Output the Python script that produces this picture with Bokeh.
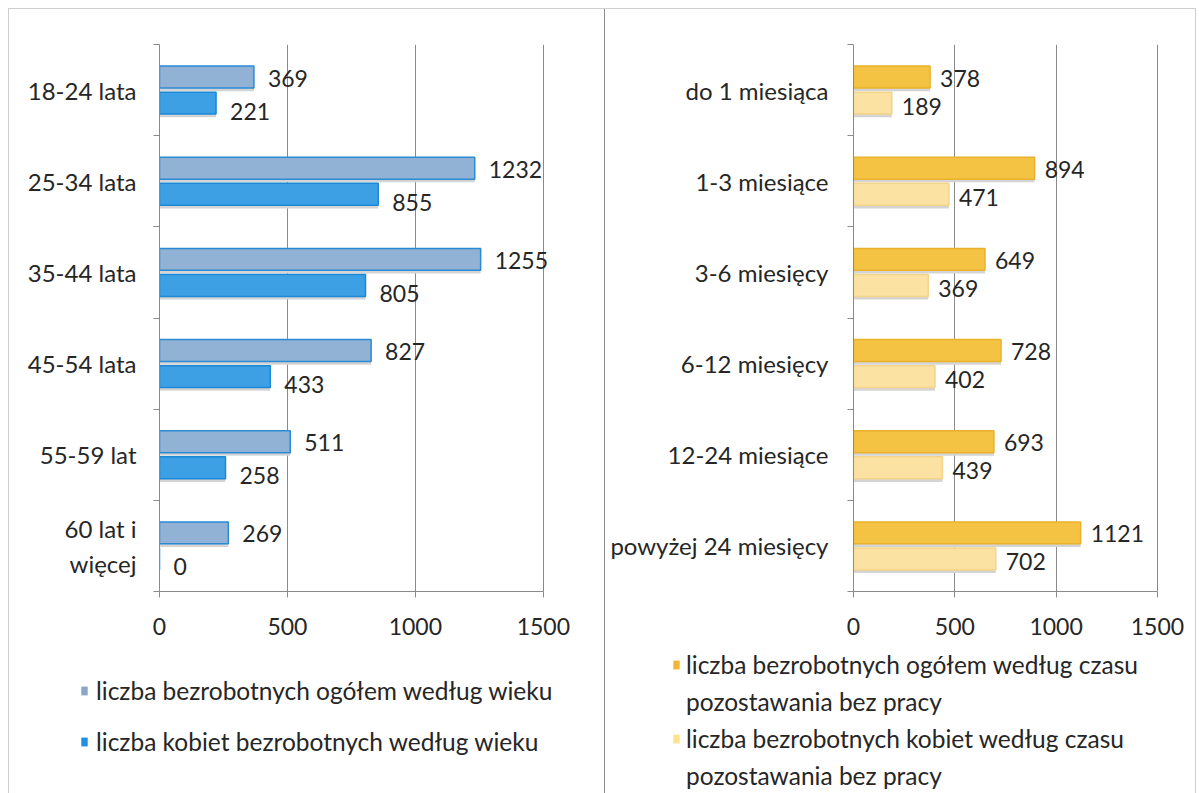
from bokeh.plotting import figure
from bokeh.models import Range1d, FixedTicker, Legend, LegendItem, ColumnDataSource
from bokeh.layouts import row, column
from bokeh.core.properties import value
from bokeh.embed import file_html
from bokeh.resources import INLINE

# ---- data ----
age_cats = ["18-24 lata", "25-34 lata", "35-44 lata", "45-54 lata", "55-59 lat", "60 lat i\nwięcej"]
age_total = [369, 1232, 1255, 827, 511, 269]
age_women = [221, 855, 805, 433, 258, 0]

dur_cats = ["do 1 miesiąca", "1-3 miesiące", "3-6 miesięcy", "6-12 miesięcy",
            "12-24 miesiące", "powyżej 24 miesięcy"]
dur_total = [378, 894, 649, 728, 693, 1121]
dur_women = [189, 471, 369, 402, 439, 702]

x_ticks = [0, 500, 1000, 1500]

age_legend = ["liczba bezrobotnych ogółem według wieku",
              "liczba kobiet bezrobotnych według wieku"]
dur_legend = [["liczba bezrobotnych ogółem według czasu", "pozostawania bez pracy"],
              ["liczba bezrobotnych kobiet według czasu", "pozostawania bez pracy"]]

FONT = "Lato"
FS_NUM = "23px"
FS_CAT = "24px"
FS_LEG = "24.5px"
TXT = "#262626"
PLOT_H = 636
LEG_H = 148
AX_MAX = 1500


def panel(cats, total, women, width, left, frame_w, x_end,
          c_total, l_total, c_women, l_women, lab_dx, lab_dy1, lab_dy2, standoff):
    n = len(cats)
    centers = [n - 0.5 - i for i in range(n)]
    src = ColumnDataSource(dict(
        cat=cats, total=total, women=women,
        y1=[c + 0.143 for c in centers], y2=[c - 0.143 for c in centers],
        s1=[c + 0.143 - 0.035 for c in centers], s2=[c - 0.143 - 0.035 for c in centers],
        t1=[str(v) for v in total], t2=[str(v) for v in women],
    ))
    p = figure(width=width, height=PLOT_H, output_backend="svg", toolbar_location=None,
               x_range=Range1d(0, x_end), y_range=Range1d(0, n),
               min_border_left=left, min_border_right=width - left - frame_w,
               min_border_top=35, min_border_bottom=PLOT_H - 35 - 547)
    p.frame_align = False
    p.outline_line_color = None
    p.background_fill_color = "white"
    p.border_fill_color = "white"
    p.ygrid.grid_line_color = None
    p.xgrid.grid_line_color = "#8a8a8a"
    p.xgrid.ticker = FixedTicker(ticks=x_ticks)

    # shadows
    p.hbar(y="s1", left=0, right="total", height=0.24, source=src,
           fill_color="#d4d4d4", line_color=None)
    p.hbar(y="s2", left=0, right="women", height=0.24, source=src,
           fill_color="#d4d4d4", line_color=None)
    # bars
    p.hbar(y="y1", left=0, right="total", height=0.24, source=src,
           fill_color=c_total, line_color=l_total, line_width=1.5)
    p.hbar(y="y2", left=0, right="women", height=0.24, source=src,
           fill_color=c_women, line_color=l_women, line_width=1.5)
    # value labels
    p.text(x="total", y="y1", text="t1", source=src, x_offset=lab_dx, y_offset=lab_dy1,
           text_baseline="middle", text_align="left", text_font=value(FONT),
           text_font_size=FS_NUM, text_color=TXT)
    p.text(x="women", y="y2", text="t2", source=src, x_offset=lab_dx, y_offset=lab_dy2,
           text_baseline="middle", text_align="left", text_font=value(FONT),
           text_font_size=FS_NUM, text_color=TXT)

    xa = p.xaxis[0]
    xa.ticker = FixedTicker(ticks=x_ticks)
    xa.bounds = (0, AX_MAX)
    xa.axis_line_color = "#8a8a8a"
    xa.major_tick_line_color = "#8a8a8a"
    xa.major_tick_in = 0
    xa.major_tick_out = 6
    xa.minor_tick_line_color = None
    xa.major_label_standoff = 20
    xa.major_label_text_font = FONT
    xa.major_label_text_font_size = FS_NUM
    xa.major_label_text_color = TXT

    ya = p.yaxis[0]
    ya.ticker = FixedTicker(ticks=centers, minor_ticks=list(range(n + 1)))
    ya.major_label_overrides = {c: lab for c, lab in zip(centers, cats)}
    ya.axis_line_color = "#8a8a8a"
    ya.major_tick_line_color = None
    ya.major_tick_in = 0
    ya.major_tick_out = 0
    ya.minor_tick_line_color = "#8a8a8a"
    ya.minor_tick_in = 0
    ya.minor_tick_out = 6
    ya.major_label_standoff = standoff
    ya.major_label_text_font = FONT
    ya.major_label_text_font_size = FS_CAT
    ya.major_label_text_color = TXT
    return p


def legend_fig(width, entries, loc, spacing, standoff):
    f = figure(width=width, height=LEG_H, output_backend="svg", toolbar_location=None,
               x_range=Range1d(0, 1), y_range=Range1d(0, 1),
               x_axis_type=None, y_axis_type=None,
               min_border_left=0, min_border_right=0, min_border_top=0, min_border_bottom=0)
    f.frame_align = False
    f.outline_line_color = None
    f.grid.grid_line_color = None
    f.background_fill_color = "white"
    f.border_fill_color = "white"
    items = []
    for label, color in entries:
        # a single swatch bar placed outside the visible range, only for the legend key
        if color is None:
            r = f.hbar(y=[-5], left=[0], right=[1], height=0.1, fill_alpha=0, line_alpha=0)
        else:
            r = f.hbar(y=[-5], left=[0], right=[1], height=0.1, fill_color=color, line_color=None)
        items.append(LegendItem(label=label, renderers=[r]))
    leg = Legend(items=items, location=loc, orientation="vertical",
                 glyph_width=8, glyph_height=11, label_height=24, spacing=spacing,
                 label_standoff=standoff, padding=0, margin=0, border_line_color=None,
                 background_fill_alpha=0, label_text_font=FONT,
                 label_text_font_size=FS_LEG, label_text_color=TXT)
    f.add_layout(leg, "center")
    return f


# frame: 0 -> 1500 spans 384 px (left) and 304 px (right)
p1 = panel(age_cats, age_total, age_women, 595, 150, 435, 1700,
           "#91b2d5", "#2a8ad3", "#3d9fe4", "#1c88d8", 14, 1, 8, 17)
p2 = panel(dur_cats, dur_total, dur_women, 590, 248, 340, 1678,
           "#f4c343", "#eab22c", "#fbe2a2", "#f3d489", 10, 1, 3, 19)

l1 = legend_fig(595, [(age_legend[0], "#8aa7c8"), (age_legend[1], "#1f8fe0")], (71, 37), 22, 8)
l2 = legend_fig(590, [(dur_legend[0][0], "#f5b733"), (dur_legend[0][1], None),
                      (dur_legend[1][0], "#fde38c"), (dur_legend[1][1], None)], (67, 3), 8, 6)

left = column(p1, l1, styles={"border-right": "1px solid #8c8c8c"})
right = column(p2, l2, styles={"border-right": "1px solid #cfcfcf"})
layout = row(left, right, styles={"border-top": "1px solid #cfcfcf",
                                  "border-left": "1px solid #cfcfcf",
                                  "margin-left": "8px", "margin-top": "8px"})

open("out.html", "w").write(file_html(layout, INLINE))
